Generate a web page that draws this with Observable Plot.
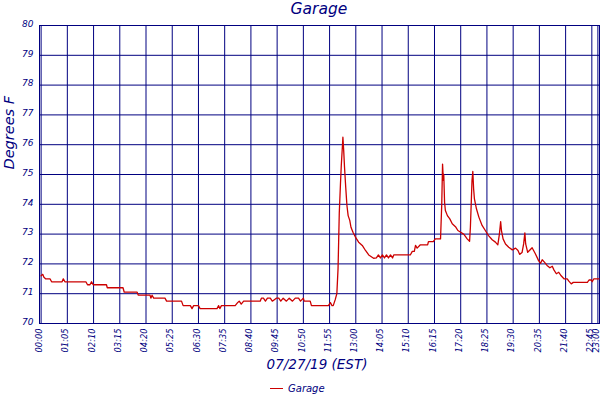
<!DOCTYPE html>
<html>
<head>
<meta charset="utf-8">
<script src="https://cdn.jsdelivr.net/npm/d3@7"></script>
<script src="https://cdn.jsdelivr.net/npm/@observablehq/plot@0.6"></script>
<style>
  html, body { margin: 0; padding: 0; background: #fff; }
  body { width: 600px; height: 400px; overflow: hidden; font-family: "DejaVu Sans", sans-serif; font-style: italic; color: #000080; }
  #title { height: 18px; line-height: 18px; font-size: 15.5px; text-align: center; width: 600px; padding-left: 38px; box-sizing: border-box; }
  #chart svg { display: block; }
  #legend { position: relative; height: 20px; }
  #legend .sw { position: absolute; left: 270px; top: 8px; width: 13px; height: 0; border-top: 1.8px solid #cc0000; }
  #legend .lb { position: absolute; left: 288px; top: 0; font-size: 10px; line-height: 17px; }
</style>
</head>
<body>
<div id="title">Garage</div>
<div id="chart"></div>
<div id="legend"><span class="sw"></span><span class="lb">Garage</span></div>
<script>
// minutes after midnight, 07/27/19
const times = [0,4,7,11,22,26,52,55,59,111,115,121,125,129,162,164,203,206,238,241,270,272,275,279,307,311,348,352,370,374,378,390,394,436,440,443,447,481,487,491,496,502,543,546,551,556,561,568,573,583,589,594,600,608,615,623,630,638,643,650,652,667,670,712,717,721,724,729,733,736,739,742,744,747,748,750,752,755,758,761,765,768,773,779,787,796,804,812,824,831,836,841,846,851,856,861,866,871,874,915,920,925,928,932,940,958,960,972,977,990,993,995,997,998,1000,1002,1007,1013,1019,1027,1033,1039,1048,1056,1062,1064,1066,1068,1070,1072,1074,1079,1085,1093,1101,1109,1118,1126,1132,1136,1139,1141,1145,1151,1159,1168,1176,1182,1186,1192,1196,1199,1201,1206,1217,1225,1233,1238,1242,1248,1254,1261,1267,1271,1277,1283,1289,1296,1304,1308,1314,1319,1354,1358,1364,1366,1370,1383];
const temps = [71.6,71.65,71.55,71.5,71.5,71.4,71.4,71.5,71.4,71.4,71.3,71.3,71.4,71.3,71.3,71.2,71.2,71.05,71.05,70.95,70.95,70.85,70.95,70.85,70.85,70.75,70.75,70.6,70.6,70.5,70.6,70.6,70.5,70.5,70.6,70.5,70.6,70.6,70.7,70.75,70.65,70.75,70.75,70.85,70.85,70.75,70.85,70.85,70.75,70.85,70.85,70.75,70.85,70.75,70.85,70.75,70.85,70.85,70.75,70.85,70.75,70.75,70.6,70.6,70.7,70.6,70.6,70.8,71.0,71.85,73.7,74.7,75.3,76.0,76.25,75.8,75.25,74.57,73.96,73.62,73.46,73.23,73.06,72.9,72.73,72.62,72.45,72.3,72.19,72.2,72.3,72.2,72.3,72.2,72.3,72.2,72.3,72.2,72.3,72.3,72.42,72.42,72.62,72.53,72.64,72.64,72.75,72.75,72.84,72.84,74.0,75.35,74.8,75.0,74.07,73.79,73.62,73.51,73.35,73.25,73.12,73.07,72.99,72.84,72.76,73.23,74.0,74.8,75.1,74.52,74.18,73.85,73.57,73.29,73.12,72.95,72.81,72.73,72.64,73.01,73.42,73.12,72.84,72.67,72.56,72.47,72.53,72.45,72.32,72.38,72.67,73.04,72.67,72.39,72.54,72.34,72.11,72.02,72.14,72.05,71.95,71.87,71.92,71.8,71.67,71.72,71.6,71.5,71.5,71.42,71.33,71.38,71.38,71.46,71.46,71.4,71.5,71.5];
const xTickLabels = ["00:00","01:05","02:10","03:15","04:20","05:25","06:30","07:35","08:40","09:45","10:50","11:55","13:00","14:05","15:10","16:15","17:20","18:25","19:30","20:35","21:40","22:45","23:00"];
const yTicks = [70,71,72,73,74,75,76,77,78,79,80];
const title = "Garage";
const xLabel = "07/27/19 (EST)";
const yLabel = "Degrees F";

const toMin = s => { const [h, m] = s.split(":").map(Number); return h * 60 + m; };
const xTicks = xTickLabels.map(toMin);
const labelOf = new Map(xTicks.map((t, i) => [t, xTickLabels[i]]));
const data = times.map((t, i) => ({t, v: temps[i]}));
const navy = "#000080";

const chart = Plot.plot({
  width: 600,
  height: 362,
  marginTop: 7,
  marginBottom: 57,
  marginLeft: 39,
  marginRight: 1,
  style: {fontFamily: "'DejaVu Sans', sans-serif", fontStyle: "italic", color: navy, background: "white", overflow: "visible"},
  x: {domain: [-4, 1384]},
  y: {domain: [70, 80]},
  marks: [
    Plot.gridX(xTicks, {stroke: navy, strokeOpacity: 1, strokeWidth: 1}),
    Plot.gridY(yTicks, {stroke: navy, strokeOpacity: 1, strokeWidth: 1}),
    Plot.frame({stroke: navy, strokeWidth: 1}),
    Plot.axisX(xTicks, {tickSize: 0, tickPadding: 5, tickRotate: -90, tickFormat: d => labelOf.get(d), fontSize: 8.3, fill: navy, label: null, dx: -1.5}),
    Plot.axisY(yTicks, {tickSize: 0, tickPadding: 6, fontSize: 9, fill: navy, label: null, dy: -1.5}),
    Plot.line(data, {x: "t", y: "v", stroke: "#cc0000", strokeWidth: 1.3}),
    Plot.text([xLabel], {frameAnchor: "bottom", text: d => d, dy: 45, dx: -2.5, fontSize: 13.5, fill: navy}),
    Plot.text([yLabel], {frameAnchor: "left", text: d => d, rotate: -90, dx: -30, dy: -5, fontSize: 14.5, fill: navy})
  ]
});
document.getElementById("title").textContent = title;
document.getElementById("chart").append(chart);
</script>
</body>
</html>
